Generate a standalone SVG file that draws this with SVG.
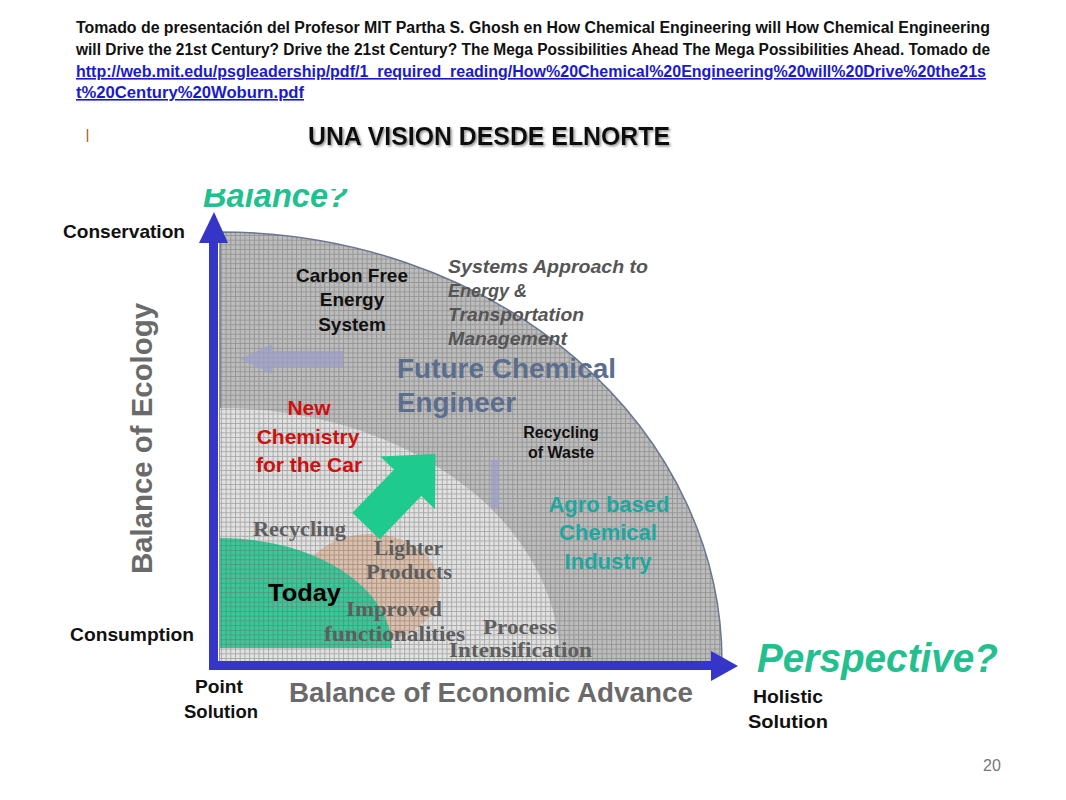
<svg xmlns="http://www.w3.org/2000/svg" width="1066" height="800" viewBox="0 0 1066 800">
<defs>
<style>
.hdr{font-family:"Liberation Sans Narrow","Liberation Sans",Arial,sans-serif;font-weight:bold;font-size:16px;fill:#111}
.lnk{font-family:"Liberation Sans Narrow","Liberation Sans",Arial,sans-serif;font-weight:bold;font-size:16px;fill:#1a1acc;text-decoration:underline}
.sb{font-family:"Liberation Sans",Arial,sans-serif;font-weight:bold}
.sf{font-family:"Liberation Serif","Times New Roman",serif;font-weight:bold;fill:#5e5e5e}
.lab{font-family:"Liberation Sans",Arial,sans-serif;font-weight:bold;font-size:19px;fill:#111}
</style>
<pattern id="grid" width="4.7" height="4.7" patternUnits="userSpaceOnUse">
<path d="M0 0.5H4.7M0.5 0V4.7" stroke="#666" stroke-opacity="0.45" stroke-width="1" fill="none"/>
</pattern>
<clipPath id="balClip"><rect x="190" y="189" width="200" height="30"/></clipPath>
<filter id="shadow" x="-5%" y="-20%" width="110%" height="140%">
<feDropShadow dx="1.5" dy="1.5" stdDeviation="0.9" flood-color="#777" flood-opacity="0.8"/>
</filter>
</defs>
<rect width="1066" height="800" fill="#fff"/>

<g id="header">
<text class="hdr" x="76" y="33" textLength="914" lengthAdjust="spacingAndGlyphs">Tomado de presentación del Profesor MIT Partha S. Ghosh en How Chemical Engineering will How Chemical Engineering</text>
<text class="hdr" x="76" y="55" textLength="914" lengthAdjust="spacingAndGlyphs">will Drive the 21st Century? Drive the 21st Century? The Mega Possibilities Ahead The Mega Possibilities Ahead. Tomado de</text>
<text class="lnk" x="76" y="77" textLength="910" lengthAdjust="spacingAndGlyphs">http://web.mit.edu/psgleadership/pdf/1_required_reading/How%20Chemical%20Engineering%20will%20Drive%20the21s</text>
<text class="lnk" x="76" y="98" textLength="228" lengthAdjust="spacingAndGlyphs">t%20Century%20Woburn.pdf</text>
</g>

<g id="title">
<line x1="87.5" y1="129" x2="87.5" y2="142" stroke="#b0702a" stroke-width="1.5"/>
<text x="308" y="145" font-family="'Liberation Sans Narrow','Liberation Sans',Arial,sans-serif" font-weight="bold" font-size="25" fill="#111" textLength="362" lengthAdjust="spacingAndGlyphs" filter="url(#shadow)">UNA VISION DESDE ELNORTE</text>
</g>

<g id="balance-label" clip-path="url(#balClip)">
<text x="203" y="207" class="sb" font-style="italic" font-size="34" fill="#22c08f" textLength="145" lengthAdjust="spacingAndGlyphs">Balance?</text>
</g>

<g id="regions">
<path id="outer-region" d="M220,662 V232 A502,430 0 0 1 722,662 Z" fill="#bdbdbd" stroke="#6a7894" stroke-width="1.5"/>
<path id="inner-region" d="M220,662 V408 A340,254 0 0 1 560,662 Z" fill="#e2e2e2"/>
<ellipse id="peach" cx="370" cy="588" rx="70" ry="54" fill="#dcb8a0" opacity="0.85"/>
<path id="today-region" d="M220,648 V538 A172,110 0 0 1 392,648 Z" fill="#38c999"/>
<path d="M220,662 V232 A502,430 0 0 1 722,662 Z" fill="url(#grid)"/>
</g>

<g id="faint-arrows" fill="#9d9dc9" opacity="0.75">
<polygon points="240,359 272,344 272,351 343,351 343,367 272,367 272,374"/>
<rect x="491" y="460" width="8" height="48"/>
</g>

<g id="growth-arrow">
<polygon points="0,-19 60,-19 60,-38 100,0 60,38 60,19 0,19" fill="#1fca8e" transform="translate(366,526) rotate(-46)"/>
</g>

<g id="axes" fill="#3535c8">
<rect x="209" y="238" width="9" height="431"/>
<polygon points="199,243 228,243 214,212"/>
<rect x="209" y="661" width="506" height="9"/>
<polygon points="711,651 711,681 738,666"/>
</g>

<g id="axis-labels">
<text class="lab" x="63" y="238" textLength="122" lengthAdjust="spacingAndGlyphs">Conservation</text>
<text class="lab" x="70" y="641" textLength="124" lengthAdjust="spacingAndGlyphs">Consumption</text>
<text class="lab" x="195" y="693" textLength="48" lengthAdjust="spacingAndGlyphs">Point</text>
<text class="lab" x="184" y="718" font-size="20" textLength="74" lengthAdjust="spacingAndGlyphs">Solution</text>
<text class="lab" x="753" y="703" font-size="20" textLength="70" lengthAdjust="spacingAndGlyphs">Holistic</text>
<text class="lab" x="748" y="728" font-size="20" textLength="80" lengthAdjust="spacingAndGlyphs">Solution</text>
<text class="sb" x="289" y="702" font-size="28" fill="#6a6a6a" textLength="404" lengthAdjust="spacingAndGlyphs">Balance of Economic Advance</text>
<text class="sb" transform="translate(152,574) rotate(-90)" font-size="30" fill="#6a6a6a" textLength="271" lengthAdjust="spacingAndGlyphs">Balance of Ecology</text>
<text class="sb" x="757" y="672" font-size="40" font-style="italic" fill="#22c08f" textLength="241" lengthAdjust="spacingAndGlyphs">Perspective?</text>
</g>

<g id="carbon-free" class="sb" font-size="19" fill="#111" text-anchor="middle">
<text x="352" y="282">Carbon Free</text>
<text x="352" y="306">Energy</text>
<text x="352" y="331">System</text>
</g>

<g id="systems-approach" class="sb" font-size="18" font-style="italic" fill="#555">
<text x="448" y="273" textLength="200" lengthAdjust="spacingAndGlyphs">Systems Approach to</text>
<text x="448" y="297">Energy &amp;</text>
<text x="448" y="321" textLength="136" lengthAdjust="spacingAndGlyphs">Transportation</text>
<text x="448" y="345" textLength="119" lengthAdjust="spacingAndGlyphs">Management</text>
</g>

<g id="future-engineer" class="sb" font-size="28" fill="#5b6e8e">
<text x="397" y="378" textLength="219" lengthAdjust="spacingAndGlyphs">Future Chemical</text>
<text x="397" y="412" textLength="119" lengthAdjust="spacingAndGlyphs">Engineer</text>
</g>

<g id="new-chemistry" class="sb" font-size="21" fill="#cc1111" text-anchor="middle">
<text x="309" y="415">New</text>
<text x="308" y="444">Chemistry</text>
<text x="309" y="472">for the Car</text>
</g>

<g id="recycling-waste" class="sb" font-size="16" fill="#111" text-anchor="middle">
<text x="561" y="438">Recycling</text>
<text x="561" y="458">of Waste</text>
</g>

<g id="agro" class="sb" font-size="22" fill="#1ea7a0" text-anchor="middle">
<text x="609" y="512">Agro based</text>
<text x="608" y="540">Chemical</text>
<text x="608" y="569">Industry</text>
</g>

<g id="inner-labels" class="sf" font-size="20">
<text x="253" y="536" textLength="93" lengthAdjust="spacingAndGlyphs">Recycling</text>
<text x="374" y="555" textLength="69" lengthAdjust="spacingAndGlyphs">Lighter</text>
<text x="366" y="579" textLength="86" lengthAdjust="spacingAndGlyphs">Products</text>
<text x="346" y="616" textLength="96" lengthAdjust="spacingAndGlyphs">Improved</text>
<text x="324" y="641" textLength="141" lengthAdjust="spacingAndGlyphs">functionalities</text>
<text x="483" y="634" textLength="74" lengthAdjust="spacingAndGlyphs">Process</text>
<text x="449" y="657" textLength="143" lengthAdjust="spacingAndGlyphs">Intensification</text>
</g>

<g id="today">
<text class="sb" x="268" y="601" font-size="24" fill="#000" textLength="73" lengthAdjust="spacingAndGlyphs">Today</text>
</g>

<g id="page-number">
<text x="983" y="771" font-family="'Liberation Sans',Arial,sans-serif" font-size="16" fill="#777">20</text>
</g>
</svg>
